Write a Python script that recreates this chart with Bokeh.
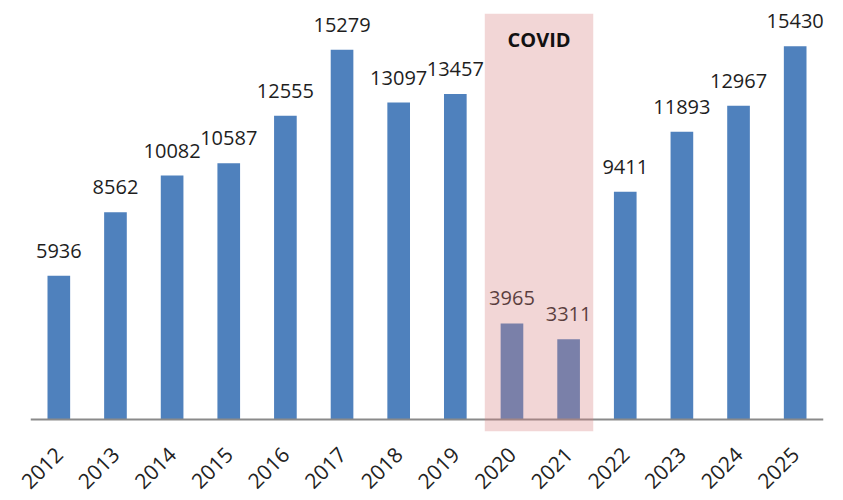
import math
from bokeh.plotting import figure
from bokeh.models import ColumnDataSource, BoxAnnotation, Span, Label, FactorRange, Range1d
from bokeh.core.properties import value
from bokeh.embed import file_html
from bokeh.resources import INLINE

years = ["2012", "2013", "2014", "2015", "2016", "2017", "2018",
         "2019", "2020", "2021", "2022", "2023", "2024", "2025"]
visitors = [5936, 8562, 10082, 10587, 12555, 15279, 13097,
            13457, 3965, 3311, 9411, 11893, 12967, 15430]
covid_years = ["2020", "2021"]
covid_label = "COVID"

FONT = "Open Sans"
BAR = "#4f81bd"

src = ColumnDataSource(dict(year=years, v=visitors, lbl=[str(x) for x in visitors]))

p = figure(x_range=FactorRange(factors=years), y_range=Range1d(-500, 16780),
           frame_width=793, frame_height=418,
           min_border_left=30, min_border_right=12, min_border_top=13, min_border_bottom=50,
           output_backend="svg", toolbar_location=None)

p.vbar(x="year", top="v", width=0.4, source=src, fill_color=BAR, line_color=None)
p.text(x="year", y="v", text="lbl", source=src, text_align="center",
       text_baseline="alphabetic", y_offset=-25, text_font=value(FONT),
       text_font_size="20px", text_color="#1e1e1e")

p.add_layout(Span(location=0, dimension="width", line_color="#8a8a8a", line_width=2))

i0 = years.index(covid_years[0]) + 0.5
i1 = years.index(covid_years[-1]) + 0.5
p.add_layout(BoxAnnotation(left=i0 - 0.48, right=i1 + 0.435,
                           fill_color=(214, 127, 127), fill_alpha=0.32, line_color=None))
p.add_layout(Label(x=(i0 - 0.48 + i1 + 0.435) / 2, y=16780, y_units="data",
                   text=covid_label, text_align="center", text_baseline="alphabetic",
                   y_offset=-26, text_font=FONT, text_font_style="bold",
                   text_font_size="20px", text_color="#111111"))

p.yaxis.visible = False
p.xgrid.visible = False
p.ygrid.visible = False
p.outline_line_color = None
p.xaxis.axis_line_color = None
p.xaxis.major_tick_line_color = None
p.xaxis.minor_tick_line_color = None
p.xaxis.major_label_orientation = math.pi / 4
p.xaxis.major_label_text_font = FONT
p.xaxis.major_label_text_font_size = "21px"
p.xaxis.major_label_text_color = "#222222"
p.xaxis.major_label_standoff = 13

open("out.html", "w").write(file_html(p, INLINE))
